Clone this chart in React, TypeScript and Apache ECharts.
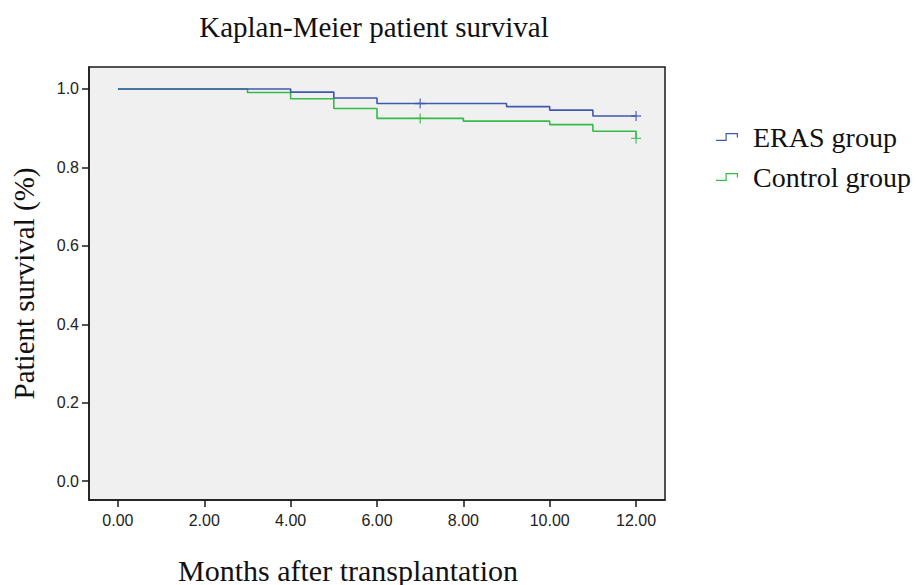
import React, { useEffect, useRef } from "react";
import * as echarts from "echarts";

// ---- data ----
const xTickValues = [0, 2, 4, 6, 8, 10, 12];
const yTickValues = [0, 0.2, 0.4, 0.6, 0.8, 1.0];

const erasTimes = [0, 4, 5, 6, 9, 10, 11, 12];
const erasSurvival = [1.0, 0.992, 0.977, 0.963, 0.955, 0.946, 0.931, 0.931];
const erasCensorTimes = [7, 12];
const erasCensorSurvival = [0.963, 0.931];

const controlTimes = [0, 3, 4, 5, 6, 8, 10, 11, 12];
const controlSurvival = [1.0, 0.991, 0.975, 0.95, 0.925, 0.918, 0.909, 0.892, 0.874];
const controlCensorTimes = [7, 12];
const controlCensorSurvival = [0.925, 0.874];

const seriesNames = ["ERAS group", "Control group"];

const BLUE = "#4058b0";
const GREEN = "#34bb48";
const SERIF = "'Liberation Serif', 'Times New Roman', serif";
const SANS = "'Liberation Sans', Arial, sans-serif";

const PLUS = "path://M0,4.3H4.3V0H5.7V4.3H10V5.7H5.7V10H4.3V5.7H0Z";
const STEP_ICON =
  "path://M0,6.8L9.5,6.8L9.5,0L22,0L22,4.5L20.8,4.5L20.8,1.2L10.7,1.2L10.7,8L0,8Z";

const zip = (xs: number[], ys: number[]) => xs.map((x, i) => [x, ys[i]]);

export default function App() {
  const ref = useRef<HTMLDivElement>(null);

  useEffect(() => {
    document.body.style.margin = "0";
    if (!ref.current) return;
    const chart = echarts.init(ref.current, null, { renderer: "svg" });

    const option: any = {
      animation: false,
      backgroundColor: "#ffffff",
      title: {
        text: "Kaplan-Meier patient survival",
        left: 374,
        textAlign: "center",
        top: 12,
        padding: 0,
        textStyle: {
          fontFamily: SERIF,
          fontSize: 29,
          fontWeight: "normal",
          color: "#111",
        },
      },
      legend: {
        orient: "vertical",
        left: 716,
        top: 123,
        padding: 0,
        itemGap: 12,
        itemWidth: 22,
        itemHeight: 8,
        selectedMode: false,
        textStyle: {
          fontFamily: SERIF,
          fontSize: 28,
          color: "#111",
          padding: [0, 0, 0, 10],
        },
        data: [
          { name: seriesNames[0], icon: STEP_ICON },
          { name: seriesNames[1], icon: STEP_ICON },
        ],
      },
      grid: {
        left: 89,
        top: 67,
        width: 576,
        height: 433,
        show: true,
        backgroundColor: "#f0f0f0",
        borderColor: "#1a1a1a",
        borderWidth: 1.5,
        containLabel: false,
        outerBoundsMode: "none",
      },
      xAxis: {
        type: "value",
        min: -0.67,
        max: 12.67,
        name: "Months after transplantation",
        nameLocation: "middle",
        nameGap: 55,
        nameTextStyle: {
          fontFamily: SERIF,
          fontSize: 30,
          color: "#111",
          padding: [0, 58, 0, 0],
        },
        axisLine: { show: true, onZero: false, lineStyle: { color: "#1a1a1a", width: 1.5 } },
        axisTick: {
          show: true,
          length: 7,
          customValues: xTickValues,
          lineStyle: { color: "#1a1a1a", width: 1.5 },
        },
        axisLabel: {
          customValues: xTickValues,
          margin: 12,
          fontFamily: SANS,
          fontSize: 16,
          color: "#222",
          formatter: (v: number) => v.toFixed(2),
        },
        splitLine: { show: false },
      },
      yAxis: {
        type: "value",
        min: -0.048,
        max: 1.056,
        name: "Patient survival (%)",
        nameLocation: "middle",
        nameGap: 51,
        nameTextStyle: { fontFamily: SERIF, fontSize: 29, color: "#111" },
        axisLine: { show: true, onZero: false, lineStyle: { color: "#1a1a1a", width: 1.5 } },
        axisTick: {
          show: true,
          length: 7,
          customValues: yTickValues,
          lineStyle: { color: "#1a1a1a", width: 1.5 },
        },
        axisLabel: {
          customValues: yTickValues,
          margin: 10,
          fontFamily: SANS,
          fontSize: 16,
          color: "#222",
          formatter: (v: number) => v.toFixed(1),
        },
        splitLine: { show: false },
      },
      series: [
        {
          name: seriesNames[0],
          type: "line",
          step: "end",
          showSymbol: false,
          data: zip(erasTimes, erasSurvival),
          lineStyle: { color: BLUE, width: 1.6 },
          itemStyle: { color: BLUE },
          z: 3,
        },
        {
          name: seriesNames[1],
          type: "line",
          step: "end",
          showSymbol: false,
          data: zip(controlTimes, controlSurvival),
          lineStyle: { color: GREEN, width: 1.6 },
          itemStyle: { color: GREEN },
          z: 2,
        },
        {
          name: seriesNames[0] + " censored",
          type: "scatter",
          symbol: PLUS,
          symbolSize: 10,
          data: zip(erasCensorTimes, erasCensorSurvival),
          itemStyle: { color: BLUE },
          z: 4,
        },
        {
          name: seriesNames[1] + " censored",
          type: "scatter",
          symbol: PLUS,
          symbolSize: 10,
          data: zip(controlCensorTimes, controlCensorSurvival),
          itemStyle: { color: GREEN },
          z: 4,
        },
      ],
    };

    chart.setOption(option);
    return () => chart.dispose();
  }, []);

  return <div ref={ref} style={{ width: 917, height: 585 }} />;
}
